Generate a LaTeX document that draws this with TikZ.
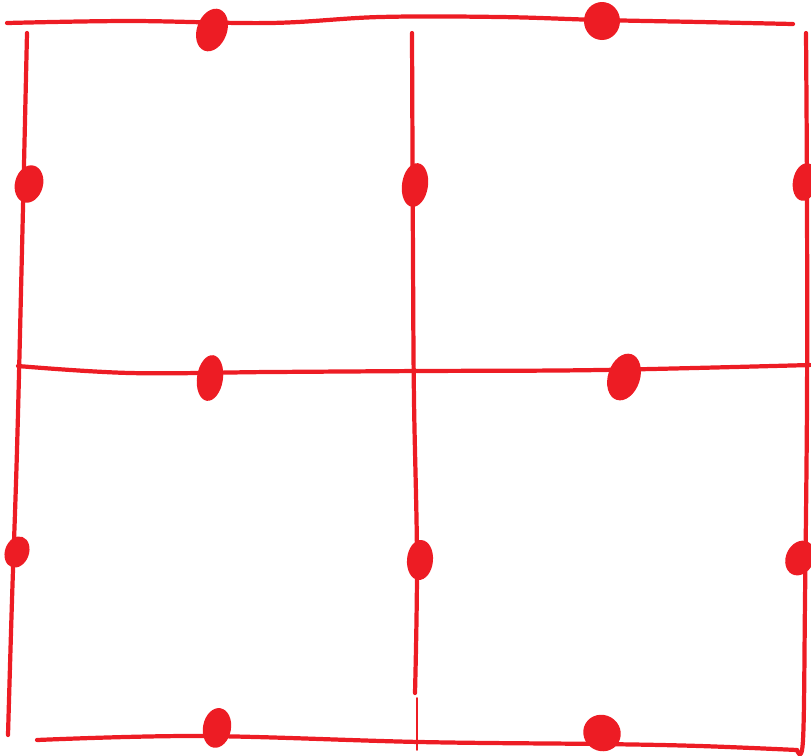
\documentclass[tikz,border=0pt]{standalone}
\usepackage{tikz}
\usetikzlibrary{calc}
\usepackage{tkz-euclide}
\definecolor{inkred}{HTML}{ED1C24}
\tikzset{pen/.style={inkred, line width=2.4pt, line cap=round, line join=round},
  blob/.style={fill=inkred}}

\begin{document}
\begin{tikzpicture}[x=0.02cm, y=-0.02cm]
            \useasboundingbox (0,0) rectangle (811,755);
            \tkzDefPoints{7/23/T0, 130/21/T1, 270/23/T2, 380/17/T3, 500/17/T4, 600/20/T5, 700/22/T6, 793/24/T7}
            \tkzDefPoints{18/366/H0, 130/373/H1, 270/372/H2, 420/371/H3, 600/370/H4, 810/365/H5}
            \tkzDefPoints{37/740/B0, 200/736/B1, 420/742/B2, 600/744/B3, 700/746/B4, 797/750/B5}
            \tkzDefPoints{27/33/L0, 22/250/L1, 17/450/L2, 12/600/L3, 8/735/L4}
            \tkzDefPoints{412/33/M0, 413/260/M1, 414/400/M2, 417/560/M3, 415/693/M4, 417/698/M5, 417/750/M6}
            \tkzDefPoints{806/33/R0, 807/200/R1, 807/400/R2, 805/600/R3, 803/740/R4}
            \tkzDefPoints{212/30/a, 602/21/b, 29/184/c, 415/185/d, 805/182/e, 210/378/f, 624/377/g, 17/552/h, 420/560/i, 800/558/j, 217/728/k, 602/733/l}
            \draw[pen] plot[smooth, tension=0.6] coordinates {(T0) (T1) (T2) (T3) (T4) (T5) (T6) (T7)};
            \draw[pen] plot[smooth, tension=0.6] coordinates {(H0) (H1) (H2) (H3) (H4) (H5)};
            \draw[pen] plot[smooth, tension=0.6] coordinates {(B0) (B1) (B2) (B3) (B4) (B5)};
            \draw[pen] plot[smooth, tension=0.6] coordinates {(L0) (L1) (L2) (L3) (L4)};
            \draw[pen] plot[smooth, tension=0.6] coordinates {(M0) (M1) (M2) (M3) (M4)};
            \draw[pen, line width=1pt] (M5) -- (M6);
            \draw[pen] plot[smooth, tension=0.6] coordinates {(R0) (R1) (R2) (R3) (R4) (B5)};
            \fill[blob, rotate around={-20:(a)}] (a) ellipse (15 and 22);
            \fill[blob] (b) ellipse (18 and 19);
            \fill[blob, rotate around={-15:(c)}] (c) ellipse (14 and 19);
            \fill[blob, rotate around={-8:(d)}] (d) ellipse (13 and 22);
            \fill[blob, rotate around={-10:(e)}] (e) ellipse (12 and 19);
            \fill[blob, rotate around={-8:(f)}] (f) ellipse (13 and 23);
            \fill[blob, rotate around={-18:(g)}] (g) ellipse (16 and 24);
            \fill[blob, rotate around={-20:(h)}] (h) ellipse (12 and 16);
            \fill[blob, rotate around={-5:(i)}] (i) ellipse (13 and 20);
            \fill[blob, rotate around={-25:(j)}] (j) ellipse (14 and 18);
            \fill[blob, rotate around={-10:(k)}] (k) ellipse (14 and 20);
            \fill[blob, rotate around={-30:(l)}] (l) ellipse (19 and 18);
        \end{tikzpicture}
\end{document}
